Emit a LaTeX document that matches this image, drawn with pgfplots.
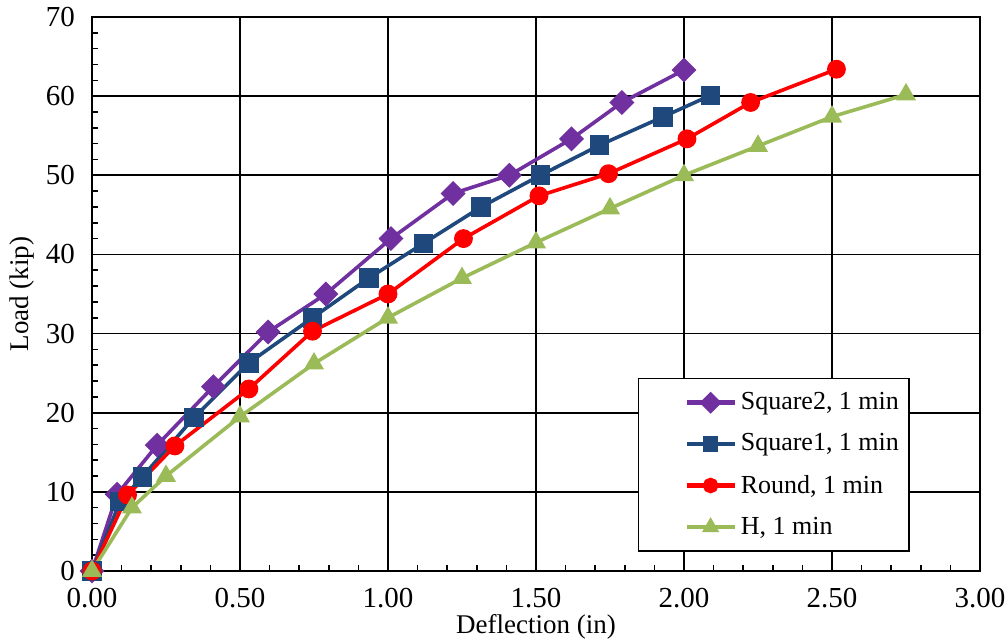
\documentclass[border=0pt]{standalone}
\usepackage{pgfplots}
\pgfplotsset{compat=1.18}
\usepackage{fontspec}
\setmainfont{Liberation Serif}
\definecolor{cPurple}{HTML}{7030A0}
\definecolor{cNavy}{HTML}{1F497D}
\definecolor{cRed}{HTML}{FF0000}
\definecolor{cGreen}{HTML}{9BBB59}
\begin{document}
\begin{tikzpicture}
\begin{axis}[
  scale only axis, width=444pt, height=277pt,
  xmin=0, xmax=3, ymin=0, ymax=70,
  xtick={0,0.5,1,1.5,2,2.5,3}, ytick={0,10,...,70},
  minor x tick num=4, minor y tick num=4,
  xtick pos=bottom, ytick pos=left,
  tick align=inside, major tick length=0pt, minor tick length=3.2pt,
  grid=major, major grid style={black, line width=0.8pt},
  axis line style={black, line width=0.9pt},
  tick style={black, line width=0.8pt},
  tick label style={font=\rmfamily\fontsize{14.5}{17}\selectfont, /pgf/number format/assume math mode=true},
  xticklabel style={/pgf/number format/fixed, /pgf/number format/fixed zerofill, /pgf/number format/precision=2, yshift=-5pt},
  yticklabel style={xshift=-5pt},
  xlabel={Deflection (in)}, ylabel={Load (kip)},
  label style={font=\rmfamily\fontsize{13.5}{16}\selectfont},
  xlabel style={yshift=3.5pt},
  ylabel style={yshift=-1pt},
  legend style={at={(rel axis cs:0.921,0.034)}, anchor=south east, draw=black, line width=0.9pt,
     font=\rmfamily\fontsize{13}{15}\selectfont, row sep=6.5pt, inner ysep=5pt, inner xsep=3pt},
  legend cell align=left,
  legend image code/.code={\path (-20pt,0pt); \draw[mark repeat=2,mark phase=2,#1] plot coordinates {(0pt,0pt)(12pt,0pt)(24pt,0pt)};},
  every legend image post/.append style={mark size=2.8pt, line width=2.2pt},
  every axis plot/.append style={line width=1.8pt},
  clip=false,
]
\addplot[color=cPurple, mark=square*, mark size=3.5pt, mark options={rotate=45, solid}] coordinates {
 (0,0) (0.085,9.7) (0.22,15.9) (0.41,23.3) (0.595,30.2) (0.79,35.0) (1.01,42.0) (1.22,47.7) (1.41,50.0) (1.62,54.6) (1.79,59.2) (2.00,63.3)};
\addlegendentry{Square2, 1 min}
\addplot[color=cNavy, mark=square*, mark size=4pt] coordinates {
 (0,0) (0.095,8.8) (0.17,11.9) (0.345,19.4) (0.53,26.3) (0.745,32.0) (0.935,37.0) (1.12,41.4) (1.315,46.0) (1.515,50.0) (1.715,53.8) (1.93,57.4) (2.09,60.1)};
\addlegendentry{Square1, 1 min}
\addplot[color=cRed, mark=*, mark size=3.8pt] coordinates {
 (0,0) (0.12,9.6) (0.28,15.8) (0.53,23.0) (0.745,30.3) (1.0,35.0) (1.255,42.0) (1.51,47.4) (1.745,50.2) (2.01,54.6) (2.225,59.2) (2.515,63.4)};
\addlegendentry{Round, 1 min}
\addplot[color=cGreen, mark=triangle*, mark size=4pt] coordinates {
 (0,0) (0.135,8.0) (0.25,12.0) (0.5,19.5) (0.75,26.2) (1.0,32.0) (1.25,37.0) (1.5,41.5) (1.75,45.8) (2.0,50.0) (2.25,53.7) (2.5,57.4) (2.75,60.2)};
\addlegendentry{H, 1 min}
\coordinate (bl) at (rel axis cs:0,0);
\coordinate (tr) at (rel axis cs:1,1);
\end{axis}
\pgfresetboundingbox
\path (bl) ++(-46pt,-36pt) coordinate (BL);
\path (tr) ++(12.5pt,8.5pt) coordinate (TR);
\path (BL) rectangle (TR);
\end{tikzpicture}
\end{document}
